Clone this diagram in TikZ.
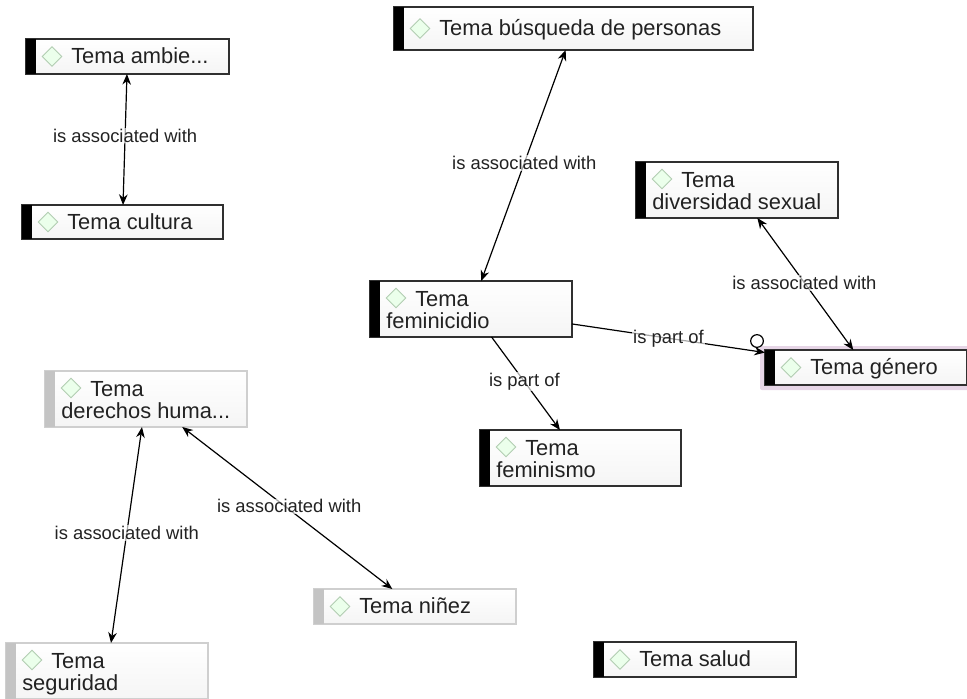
\documentclass[tikz,border=0pt]{standalone}
\usepackage{fontspec}
\setmainfont{Liberation Sans}
\usetikzlibrary{shapes.geometric,arrows.meta,calc}
\definecolor{txt}{HTML}{222222}
\definecolor{bordblack}{HTML}{303030}
\definecolor{bordgray}{HTML}{CFCFCF}
\definecolor{bargray}{HTML}{C4C4C4}
\definecolor{halo}{HTML}{E6D5E6}
\tikzset{
  x=0.75pt,y=-0.75pt,
  tbox/.style={rectangle,inner sep=0pt,outer sep=0pt,top color=white,bottom color=black!4,anchor=north west},
  activebox/.style={tbox,draw=bordblack,line width=0.9pt},
  mutedbox/.style={tbox,draw=bordgray,line width=0.9pt},
  activebar/.style={fill=black},
  mutedbar/.style={fill=bargray},
  gem/.style={diamond,draw=green!35!black!30,fill=green!8,line width=0.7pt,minimum width=15pt,minimum height=15pt,inner sep=0pt},
  ttext/.style={inner sep=0pt,anchor=base west,font=\fontsize{16.4}{18}\selectfont,text=txt,align=left},
  link/.style={draw=black,line width=0.9pt,{Stealth[length=8pt,width=6.5pt]}-{Stealth[length=8pt,width=6.5pt]}},
  linkone/.style={draw=black,line width=0.9pt,-{Stealth[length=8pt,width=6.5pt]}},
  linklabel/.style={fill=white,fill opacity=0.65,text opacity=1,inner sep=0.8pt,font=\fontsize{13.8}{16}\selectfont,text=txt},
}
% name, x0, y0, x1, y1, kind (active/muted), text
\newcommand{\onebox}[7]{%
  \pgfmathsetlengthmacro{\bw}{(#4-#2)*0.75pt}%
  \pgfmathsetlengthmacro{\bh}{(#5-#3)*0.75pt}%
  \node[#6box,minimum width=\bw,minimum height=\bh] (#1) at (#2,#3) {};
  \fill[#6bar] (#2,#3) rectangle (#2+10,#5);
  \node[gem] (#1gem) at (#2+26,{(#3+#5)/2}) {};
  \node[ttext] (#1txt) at (#2+45,{(#3+#5)/2+7}) {#7};
}
% name, x0, y0, x1, y1, kind, first line, second line
\newcommand{\twobox}[8]{%
  \pgfmathsetlengthmacro{\bw}{(#4-#2)*0.75pt}%
  \pgfmathsetlengthmacro{\bh}{(#5-#3)*0.75pt}%
  \node[#6box,minimum width=\bw,minimum height=\bh] (#1) at (#2,#3) {};
  \fill[#6bar] (#2,#3) rectangle (#2+10,#5);
  \node[gem] (#1gem) at (#2+26,#3+17) {};
  \node[ttext] (#1txt) at (#2+45,#3+25) {#7};
  \node[ttext] (#1txtb) at (#2+16,#3+47) {#8};
}
\begin{document}
\begin{tikzpicture}
\useasboundingbox (0,0) rectangle (967,699);
% selection halo
\fill[halo,rounded corners=1.5pt] (760,346) rectangle (971,390);
% topic boxes
\onebox{ambie}{26}{39}{229}{74}{active}{Tema ambie...}
\onebox{cultura}{22}{205}{223}{239}{active}{Tema cultura}
\onebox{busqueda}{394}{7}{753}{50}{active}{Tema búsqueda de personas}
\twobox{diversidad}{636}{162}{838}{218}{active}{Tema}{diversidad sexual}
\twobox{feminicidio}{370}{281}{572}{337}{active}{Tema}{feminicidio}
\onebox{genero}{765}{350}{967}{385}{active}{Tema género}
\twobox{feminismo}{480}{430}{681}{486}{active}{Tema}{feminismo}
\twobox{derechos}{45}{371}{247}{427}{muted}{Tema}{derechos huma...}
\onebox{ninez}{314}{589}{516}{624}{muted}{Tema niñez}
\twobox{seguridad}{6}{643}{208}{699}{muted}{Tema}{seguridad}
\onebox{salud}{594}{642}{796}{677}{active}{Tema salud}
% connectors
\draw[link] (ambie) -- node[linklabel,pos=0.47] (l1) {is associated with} (cultura);
\draw[link] (busqueda) -- node[linklabel,pos=0.49] (l2) {is associated with} (feminicidio);
\draw[link] (diversidad) -- node[linklabel,pos=0.49] (l3) {is associated with} (genero);
\draw[linkone] (feminicidio) -- node[linklabel,pos=0.5] (l4) {is part of} (genero);
\draw[linkone] (feminicidio) -- node[linklabel,pos=0.48] (l5) {is part of} (feminismo);
\draw[link] (derechos) -- node[linklabel,pos=0.49,xshift=3pt] (l6) {is associated with} (ninez);
\draw[link] (derechos) -- node[linklabel,pos=0.49] (l7) {is associated with} (seguridad);
% multiplicity circle
\node[circle,draw=black,fill=white,line width=0.9pt,minimum size=9.5pt,inner sep=0pt] (ring) at (757,341) {};
\end{tikzpicture}
\end{document}
